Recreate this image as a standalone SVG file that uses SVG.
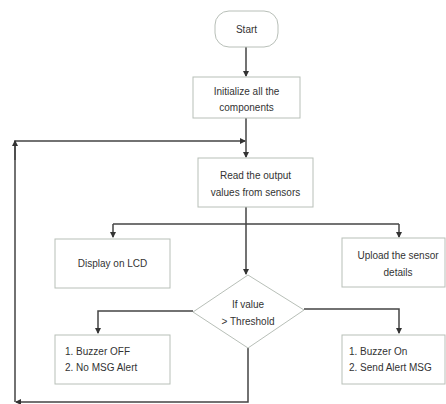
<svg xmlns="http://www.w3.org/2000/svg" width="446" height="404" viewBox="0 0 446 404">
<style>
.box{fill:#fff;stroke:#b8bfb8;stroke-width:1}
.t{font-family:"Liberation Sans",Arial,sans-serif;font-size:10px;fill:#333}
.c{text-anchor:middle}
.ln{fill:none;stroke:#444;stroke-width:1.5}
</style>
<defs>
<marker id="ah" markerWidth="6" markerHeight="6" refX="5" refY="3" orient="auto" markerUnits="userSpaceOnUse">
<path d="M0,0 L6,3 L0,6 Z" fill="#333"/>
</marker>
</defs>
<rect width="446" height="404" fill="#fff"/>
<g id="connectors">
<path class="ln" d="M246,47 V76" marker-end="url(#ah)"/>
<path class="ln" d="M246,118 V157" marker-end="url(#ah)"/>
<path class="ln" d="M15,402 V141 H245" marker-end="url(#ah)"/>
<path class="ln" d="M246,207 V274" marker-end="url(#ah)"/>
<path class="ln" d="M113,224 H399"/>
<path class="ln" d="M113,224 V237" marker-end="url(#ah)"/>
<path class="ln" d="M399,224 V237" marker-end="url(#ah)"/>
<path class="ln" d="M193,311 H98 V333" marker-end="url(#ah)"/>
<path class="ln" d="M304,309 H399 V333" marker-end="url(#ah)"/>
<path class="ln" d="M248,348 V402 H16" marker-end="url(#ah)"/>
<path class="ln" d="M15,160 V141" marker-end="url(#ah)"/>
</g>
<g id="start">
<rect class="box" x="215" y="11" width="63" height="36" rx="14"/>
<text class="t c" x="246.5" y="33">Start</text>
</g>
<g id="init">
<rect class="box" x="193" y="77" width="107" height="41"/>
<text class="t c" x="246.5" y="95">Initialize all the</text>
<text class="t c" x="246.5" y="111">components</text>
</g>
<g id="read">
<rect class="box" x="198" y="158" width="115" height="49"/>
<text class="t c" x="255.5" y="179">Read the output</text>
<text class="t c" x="255.5" y="196">values from sensors</text>
</g>
<g id="display">
<rect class="box" x="55" y="239" width="115" height="49"/>
<text class="t c" x="112.5" y="267">Display on LCD</text>
</g>
<g id="upload">
<rect class="box" x="342" y="238" width="103" height="49"/>
<text class="t c" x="398" y="259">Upload the sensor</text>
<text class="t c" x="398" y="276">details</text>
</g>
<g id="decision">
<path class="box" d="M248,275 L304,310 L248,348 L193,312 Z"/>
<text class="t c" x="248" y="308">If value</text>
<text class="t c" x="248" y="325">&gt; Threshold</text>
</g>
<g id="off">
<rect class="box" x="55" y="335" width="115" height="49"/>
<text class="t" x="65" y="355">1. Buzzer OFF</text>
<text class="t" x="65" y="371">2. No MSG Alert</text>
</g>
<g id="on">
<rect class="box" x="342" y="335" width="103" height="49"/>
<text class="t" x="349" y="355">1. Buzzer On</text>
<text class="t" x="349" y="371">2. Send Alert MSG</text>
</g>
</svg>
